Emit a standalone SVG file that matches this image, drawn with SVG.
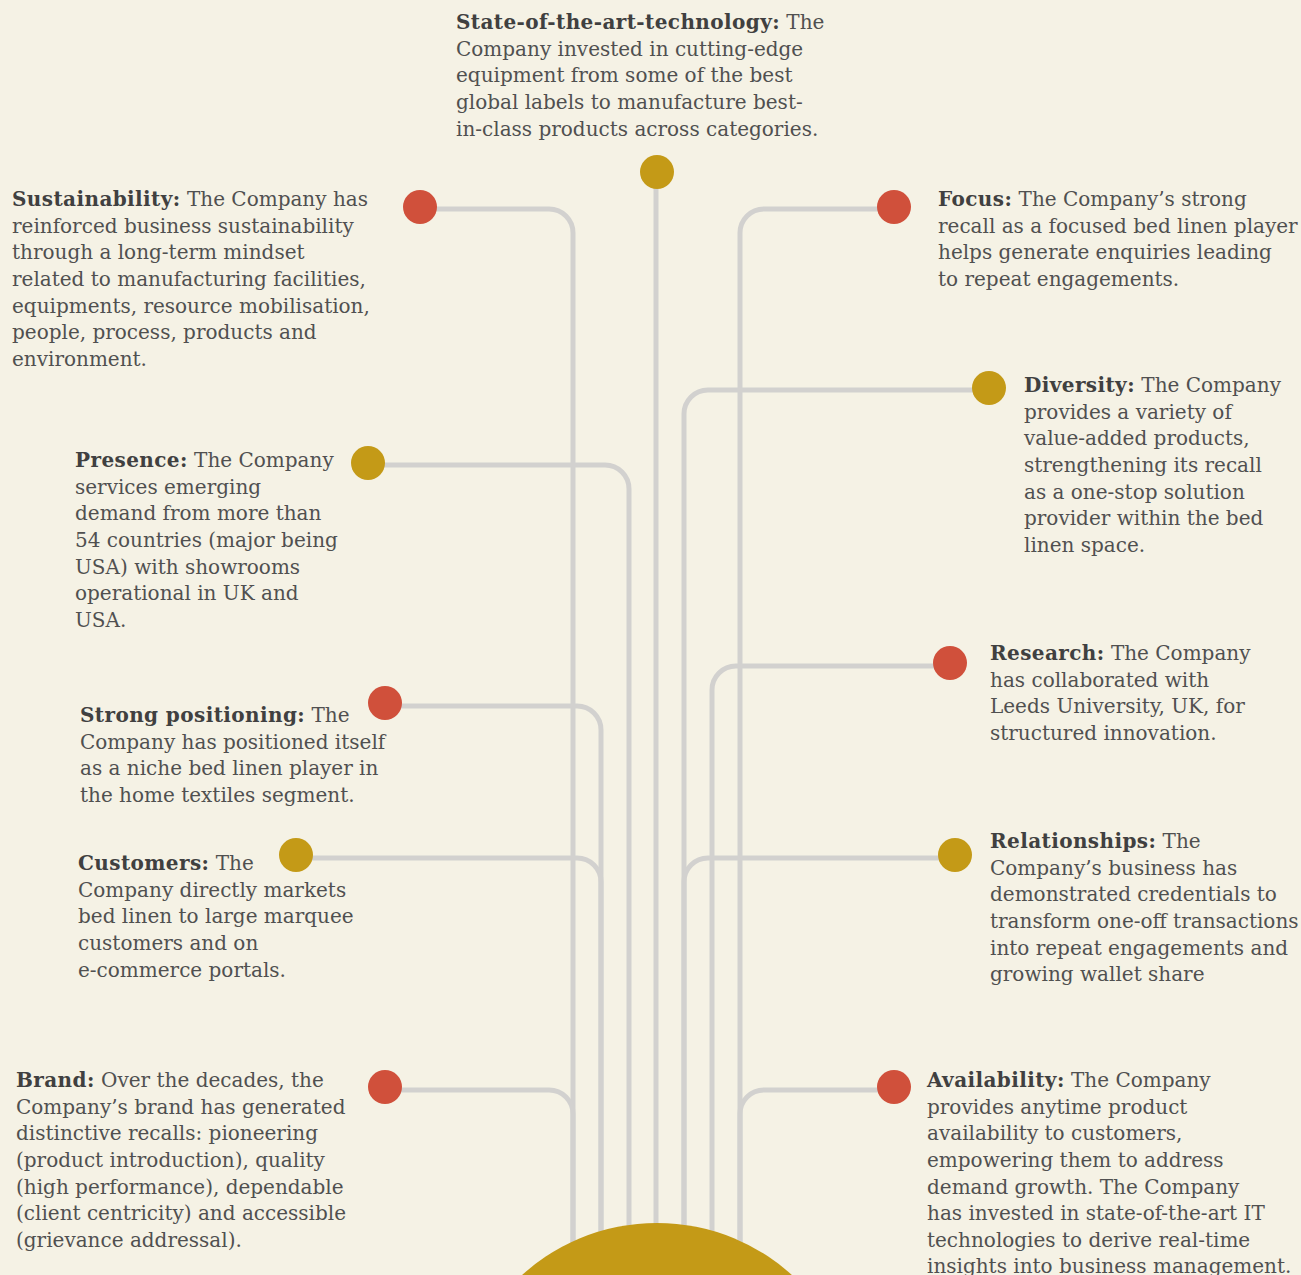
<svg xmlns="http://www.w3.org/2000/svg" width="1301" height="1275" viewBox="0 0 1301 1275">
<style>
.t{font-family:"DejaVu Serif","Liberation Serif",serif;font-size:20px;fill:#505050;}
.b{font-weight:bold;fill:#404040;letter-spacing:0.4px;}
.c{fill:none;stroke:#d2d1cf;stroke-width:5;}
.r{fill:#d0503b;}
.g{fill:#c49a17;}
</style>
<rect width="1301" height="1275" fill="#f5f2e5"/>
<g id="connectors">
<path class="c" d="M420,209 H549 A24,24 0 0 1 573,233 V1275"/>
<path class="c" d="M385,1090 H549 A24,24 0 0 1 573,1114 V1275"/>
<path class="c" d="M368,465 H605 A24,24 0 0 1 629,489 V1275"/>
<path class="c" d="M385,706 H577 A24,24 0 0 1 601,730 V1275"/>
<path class="c" d="M296,858 H577 A24,24 0 0 1 601,882 V1275"/>
<path class="c" d="M656,172 V1275"/>
<path class="c" d="M894,209 H764 A24,24 0 0 0 740,233 V1275"/>
<path class="c" d="M894,1090 H764 A24,24 0 0 0 740,1114 V1275"/>
<path class="c" d="M989,390 H708 A24,24 0 0 0 684,414 V1275"/>
<path class="c" d="M955,858 H708 A24,24 0 0 0 684,882 V1275"/>
<path class="c" d="M950,666 H736 A24,24 0 0 0 712,690 V1275"/>
</g>
<circle id="hub" cx="657" cy="1424" r="201" class="g"/>
<g id="technology">
<circle cx="657" cy="172" r="17" class="g"/>
<text class="t" x="456" y="29"><tspan class="b">State-of-the-art-technology:</tspan> The<tspan x="456" y="56">Company invested in cutting-edge</tspan><tspan x="456" y="82">equipment from some of the best</tspan><tspan x="456" y="109">global labels to manufacture best-</tspan><tspan x="456" y="136">in-class products across categories.</tspan></text>
</g>
<g id="sustainability">
<circle cx="420" cy="207" r="17" class="r"/>
<text class="t" x="12" y="206"><tspan class="b">Sustainability:</tspan> The Company has<tspan x="12" y="233">reinforced business sustainability</tspan><tspan x="12" y="259">through a long-term mindset</tspan><tspan x="12" y="286">related to manufacturing facilities,</tspan><tspan x="12" y="313">equipments, resource mobilisation,</tspan><tspan x="12" y="339">people, process, products and</tspan><tspan x="12" y="366">environment.</tspan></text>
</g>
<g id="focus">
<circle cx="894" cy="207" r="17" class="r"/>
<text class="t" x="938" y="206"><tspan class="b">Focus:</tspan> The Company’s strong<tspan x="938" y="233">recall as a focused bed linen player</tspan><tspan x="938" y="259">helps generate enquiries leading</tspan><tspan x="938" y="286">to repeat engagements.</tspan></text>
</g>
<g id="diversity">
<circle cx="989" cy="388" r="17" class="g"/>
<text class="t" x="1024" y="392"><tspan class="b">Diversity:</tspan> The Company<tspan x="1024" y="419">provides a variety of</tspan><tspan x="1024" y="445">value-added products,</tspan><tspan x="1024" y="472">strengthening its recall</tspan><tspan x="1024" y="499">as a one-stop solution</tspan><tspan x="1024" y="525">provider within the bed</tspan><tspan x="1024" y="552">linen space.</tspan></text>
</g>
<g id="presence">
<circle cx="368" cy="463" r="17" class="g"/>
<text class="t" x="75" y="467"><tspan class="b">Presence:</tspan> The Company<tspan x="75" y="494">services emerging</tspan><tspan x="75" y="520">demand from more than</tspan><tspan x="75" y="547">54 countries (major being</tspan><tspan x="75" y="574">USA) with showrooms</tspan><tspan x="75" y="600">operational in UK and</tspan><tspan x="75" y="627">USA.</tspan></text>
</g>
<g id="research">
<circle cx="950" cy="663" r="17" class="r"/>
<text class="t" x="990" y="660"><tspan class="b">Research:</tspan> The Company<tspan x="990" y="687">has collaborated with</tspan><tspan x="990" y="713">Leeds University, UK, for</tspan><tspan x="990" y="740">structured innovation.</tspan></text>
</g>
<g id="positioning">
<circle cx="385" cy="703" r="17" class="r"/>
<text class="t" x="80" y="722"><tspan class="b">Strong positioning:</tspan> The<tspan x="80" y="749">Company has positioned itself</tspan><tspan x="80" y="775">as a niche bed linen player in</tspan><tspan x="80" y="802">the home textiles segment.</tspan></text>
</g>
<g id="customers">
<circle cx="296" cy="855" r="17" class="g"/>
<text class="t" x="78" y="870"><tspan class="b">Customers:</tspan> The<tspan x="78" y="897">Company directly markets</tspan><tspan x="78" y="923">bed linen to large marquee</tspan><tspan x="78" y="950">customers and on</tspan><tspan x="78" y="977">e-commerce portals.</tspan></text>
</g>
<g id="relationships">
<circle cx="955" cy="855" r="17" class="g"/>
<text class="t" x="990" y="848"><tspan class="b">Relationships:</tspan> The<tspan x="990" y="875">Company’s business has</tspan><tspan x="990" y="901">demonstrated credentials to</tspan><tspan x="990" y="928">transform one-off transactions</tspan><tspan x="990" y="955">into repeat engagements and</tspan><tspan x="990" y="981">growing wallet share</tspan></text>
</g>
<g id="brand">
<circle cx="385" cy="1087" r="17" class="r"/>
<text class="t" x="16" y="1087"><tspan class="b">Brand:</tspan> Over the decades, the<tspan x="16" y="1114">Company’s brand has generated</tspan><tspan x="16" y="1140">distinctive recalls: pioneering</tspan><tspan x="16" y="1167">(product introduction), quality</tspan><tspan x="16" y="1194">(high performance), dependable</tspan><tspan x="16" y="1220">(client centricity) and accessible</tspan><tspan x="16" y="1247">(grievance addressal).</tspan></text>
</g>
<g id="availability">
<circle cx="894" cy="1087" r="17" class="r"/>
<text class="t" x="927" y="1087"><tspan class="b">Availability:</tspan> The Company<tspan x="927" y="1114">provides anytime product</tspan><tspan x="927" y="1140">availability to customers,</tspan><tspan x="927" y="1167">empowering them to address</tspan><tspan x="927" y="1194">demand growth. The Company</tspan><tspan x="927" y="1220">has invested in state-of-the-art IT</tspan><tspan x="927" y="1247">technologies to derive real-time</tspan><tspan x="927" y="1273">insights into business management.</tspan></text>
</g>
</svg>
